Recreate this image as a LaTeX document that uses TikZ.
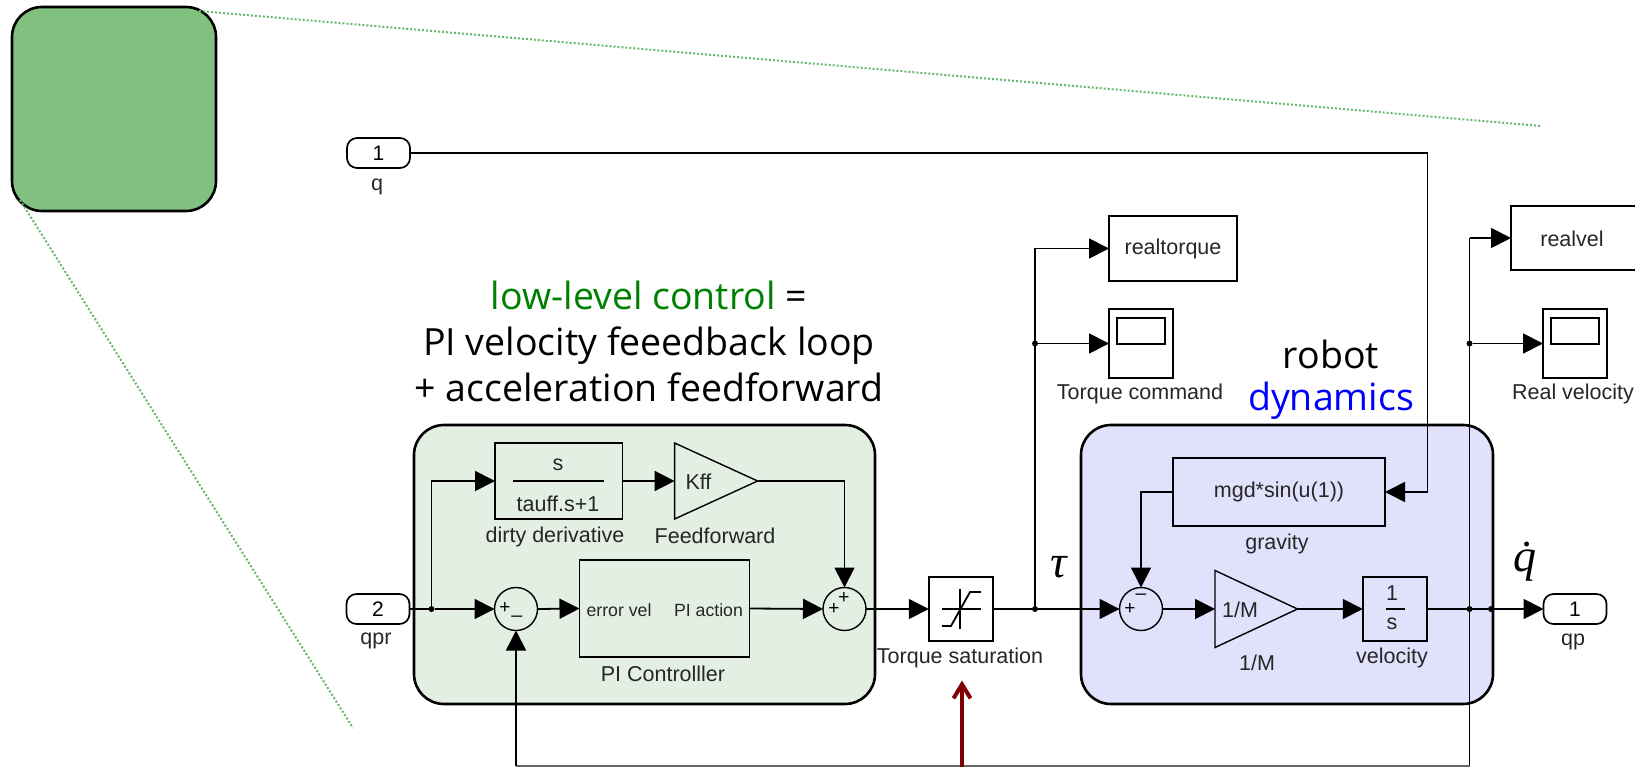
\documentclass[tikz,border=0pt]{standalone}
\usepackage{fontspec}
\setmainfont{Liberation Sans}
\newfontfamily\bigfont{Open Sans}
\newfontfamily\symfont{Liberation Serif}
\usetikzlibrary{arrows.meta}
\usetikzlibrary{shapes.geometric}
\definecolor{ctrlfill}{rgb}{0.894,0.937,0.894}
\definecolor{dynfill}{rgb}{0.882,0.882,0.988}
\definecolor{zoomfill}{rgb}{0.502,0.757,0.502}
\definecolor{zoomline}{rgb}{0.40,0.72,0.40}
\definecolor{darkred}{rgb}{0.5,0,0}
\definecolor{ctrlgreen}{rgb}{0,0.5,0}
\begin{document}
\begin{tikzpicture}[
x = 1pt, y = -1pt,
every node/.style = {inner sep = 0pt, outer sep = 0pt},
panel/.style = {draw, line width = 2.6pt, rounded corners = 30pt},
block/.style = {draw, line width = 1.7pt, minimum width = #1, font = \fontsize{21.5}{24}\selectfont, text = black!85},
gainblock/.style = {draw, line width = 1.4pt, isosceles triangle, isosceles triangle stretches, shape border rotate = 0, anchor = lower side, minimum width = #1},
port/.style = {draw, line width = 1.7pt, rounded corners = 10pt, minimum width = 63pt, minimum height = 30pt, font = \fontsize{21}{24}\selectfont},
sumnode/.style = {draw, circle, line width = 1.4pt, minimum size = 43pt},
dotnode/.style = {circle, fill = black, minimum size = 6pt},
lbl/.style = {font = \fontsize{21.5}{24}\selectfont, text = black!85},
smalllbl/.style = {font = \fontsize{17.7}{20}\selectfont, text = black!85},
sign/.style = {font = \fontsize{19}{20}\selectfont},
bigtxt/.style = {font = \bigfont\fontsize{37.5}{46}\selectfont, align = center},
symtxt/.style = {font = \symfont\itshape\fontsize{46}{50}\selectfont},
wire/.style = {line width = 1.8pt},
arrow/.style = {wire, -{Triangle[length = 20pt, width = 20pt]}},
zoomcue/.style = {zoomline, line width = 2pt, dotted}
]
\clip (0,0) rectangle (1635,767);

\node[draw, line width = 2.6pt, fill = zoomfill, rounded corners = 30pt, minimum width = 204pt, minimum height = 204pt] (zoombox) at (114,109) {};
\coordinate (cueA) at (199,11);
\coordinate (cueB) at (1541,126);
\coordinate (cueC) at (20,200);
\coordinate (cueD) at (353,728);
\draw[zoomcue] (cueA) -- (cueB);
\draw[zoomcue] (cueC) -- (cueD);

\node[panel, fill = ctrlfill, minimum width = 461pt, minimum height = 279pt] (ctrlbox) at (644.5,564.5) {};
\node[panel, fill = dynfill, minimum width = 412pt, minimum height = 279pt] (dynbox) at (1287,564.5) {};

\node[bigtxt] (title) at (649,341) {\textcolor{ctrlgreen}{low-level control} =\\PI velocity feeedback loop\\+ acceleration feedforward};
\node[bigtxt, font = \bigfont\fontsize{37.5}{42}\selectfont] (robot) at (1331,380) {robot\\\textcolor{blue}{dynamics}};

\node[port] (inq) at (378.5,153) {1};
\node[lbl] (inqlbl) at (377,187) {q};
\node[port] (inqpr) at (378,609) {2};
\node[lbl] (inqprlbl) at (376,641) {qpr};
\node[port] (outqp) at (1575,609) {1};
\node[lbl] (outqplbl) at (1573,642) {qp};

\node[dotnode] (jqpr) at (431.5,609) {};
\node[sumnode] (sumerr) at (516,609) {};
\node[sign] (sumerrA) at (505,608) {+};
\node[sign] (sumerrB) at (517,615) {\_};
\node[sumnode] (sumtau) at (844.5,609) {};
\node[sign] (sumtauA) at (834,609) {+};
\node[sign] (sumtauB) at (844,598) {+};
\node[sumnode] (sumdyn) at (1141,609) {};
\node[sign] (sumdynA) at (1130,609) {+};
\node[sign] (sumdynB) at (1141,597) {--};

\node[block = 127.5pt, minimum height = 76pt] (deriv) at (558.75,481) {};
\node[lbl] (derivnum) at (558,465) {s};
\node[lbl] (derivden) at (558,504) {tauff.s+1};
\coordinate (fracA) at (513,481);
\coordinate (fracB) at (604,481);
\draw[wire] (fracA) -- (fracB);
\node[lbl] (derivlbl) at (555,537) {dirty derivative};

\node[gainblock = 76pt, minimum height = 83pt] (kff) at (674.6,481) {};
\node[lbl] (kfftxt) at (698.5,482) {Kff};
\node[lbl] (kfflbl) at (715,536) {Feedforward};

\node[block = 170pt, minimum height = 97pt] (pi) at (664.5,608.5) {};
\node[smalllbl] (pierr) at (619,610) {error vel};
\node[smalllbl] (piact) at (708.5,610) {PI action};
\node[lbl] (pilbl) at (663,674) {PI Controlller};

\node[block = 64.5pt, minimum height = 64pt] (sat) at (961,609) {};
\node[lbl] (satlbl) at (960,658) {Torque saturation};
\draw[wire, shift = {(sat.center)}] (-19,0) -- (20,0);
\draw[wire, shift = {(sat.center)}] (-1,-20) -- (-1,20);
\draw[wire, shift = {(sat.center)}] (-19,17) -- (-10,17) -- (9,-17) -- (20,-17);

\node[dotnode] (jtau) at (1035,609) {};
\node[symtxt] (tau) at (1059,567) {τ};
\node[block = 128pt, minimum height = 65pt] (realtorque) at (1173,248.5) {realtorque};
\node[block = 64pt, minimum height = 69pt] (scopetau) at (1141,343.5) {};
\node[block = 48pt, minimum height = 26pt] (scopetauin) at (1141,331) {};
\node[lbl] (scopetaulbl) at (1140,394) {Torque command};
\node[dotnode] (jscopetau) at (1035,343.5) {};

\node[block = 212pt, minimum height = 68pt] (gravity) at (1279,492) {mgd*sin(u(1))};
\node[lbl] (gravitylbl) at (1277,544) {gravity};
\coordinate (qcorner) at (1427.5,153);

\node[gainblock = 77pt, minimum height = 82.5pt] (minv) at (1215,609) {};
\node[lbl] (minvtxt) at (1240,610) {1/M};
\node[lbl] (minvlbl) at (1257,663) {1/M};

\node[block = 64.5pt, minimum height = 64pt] (integ) at (1395,609) {};
\node[lbl] (integnum) at (1392,593) {1};
\node[lbl] (integden) at (1392,624) {s};
\coordinate (integA) at (1386,609);
\coordinate (integB) at (1405,609);
\draw[wire] (integA) -- (integB);
\node[lbl] (integlbl) at (1392,658) {velocity};

\node[dotnode] (jvel) at (1469.5,609) {};
\node[dotnode] (jout) at (1491,609) {};
\node[symtxt] (qdot) at (1525,562) {\.{q}};
\node[dotnode] (jscope) at (1469.5,343.5) {};
\coordinate (velcorner) at (1469.5,238);
\coordinate (fbcorner) at (1469.5,766);
\node[block = 160pt, minimum height = 64pt] (realvel) at (1591,238) {};
\node[lbl] (realveltxt) at (1572,239) {realvel};
\node[block = 64pt, minimum height = 69pt] (scopevel) at (1575,343.5) {};
\node[block = 48pt, minimum height = 26pt] (scopevelin) at (1575,331) {};
\node[lbl] (scopevellbl) at (1573,394) {Real velocity};

\draw[wire] (inqpr.east) -- (jqpr);
\draw[arrow] (jqpr) -- (sumerr.west);
\draw[arrow] (jqpr) |- (deriv.west);
\draw[arrow] (deriv.east) -- (kff.lower side);
\draw[arrow] (kff.apex) -| (sumtau.north);
\draw[arrow] (sumerr.east) -- (pi.west);
\draw[arrow] (pi.east) -- (sumtau.west);
\draw[arrow] (sumtau.east) -- (sat.west);
\draw[wire] (sat.east) -- (jtau);
\draw[arrow] (jtau) -- (sumdyn.west);
\draw[arrow] (jtau) |- (realtorque.west);
\draw[arrow] (jscopetau) -- (scopetau.west);
\draw[wire] (inq.east) -- (qcorner);
\draw[arrow] (qcorner) |- (gravity.east);
\draw[arrow] (gravity.west) -| (sumdyn.north);
\draw[arrow] (sumdyn.east) -- (minv.lower side);
\draw[arrow] (minv.apex) -- (integ.west);
\draw[wire] (integ.east) -- (jout);
\draw[arrow] (jout) -- (outqp.west);
\draw[wire] (fbcorner) -- (velcorner);
\draw[arrow] (velcorner) -- (realvel.west);
\draw[arrow] (jscope) -- (scopevel.west);
\draw[wire, black!60] (fbcorner) -- (sumerr.south |- fbcorner);
\draw[arrow] (sumerr.south |- fbcorner) -- (sumerr.south);

\node (redtip) at (962,680) {};
\node (redstart) at (962,767) {};
\draw[darkred, line width = 4pt, -{Straight Barb[length = 14pt, width = 17pt]}] (redstart) -- (redtip);
\end{tikzpicture}
\end{document}
